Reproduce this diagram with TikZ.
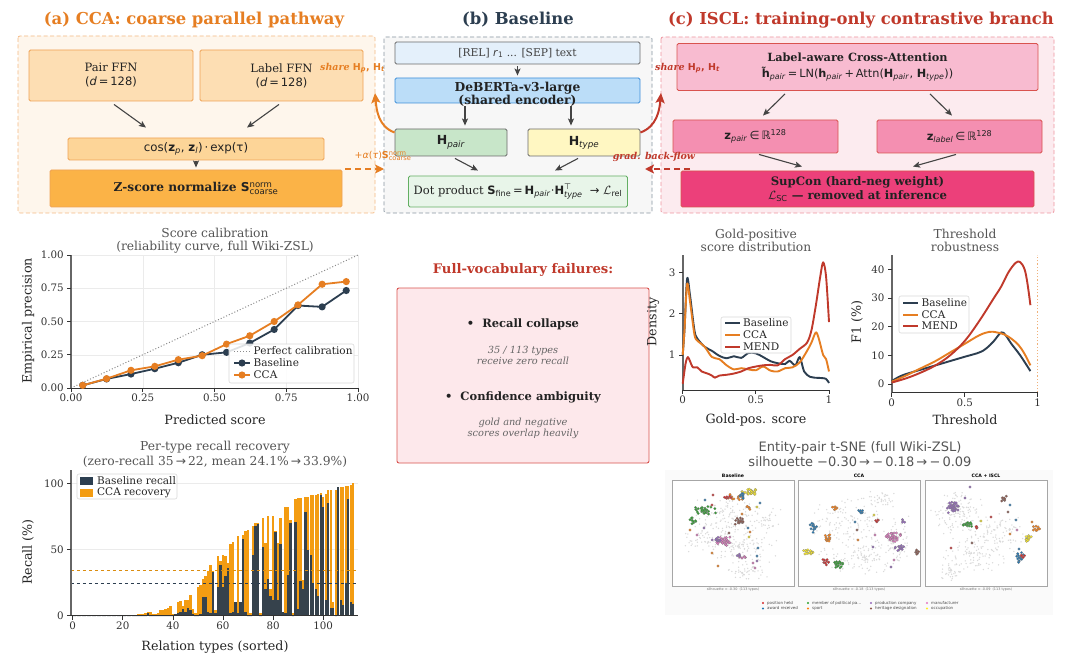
\documentclass[tikz,border=0pt]{standalone}
\usepackage{fontspec}
\setmainfont{DejaVu Serif}
\newfontfamily\dvs{DejaVu Sans}
\usetikzlibrary{arrows.meta}
\newcommand{\fs}[2]{\fontsize{#1}{#2}\selectfont}
\makeatletter
\newcommand{\ssup}[2]{\ensuremath{^{\mbox{\fontsize\sf@size\z@\selectfont #1}}_{\mbox{\fontsize\sf@size\z@\selectfont #2}}}}
\makeatother
\definecolor{corange}{HTML}{E67E22}
\definecolor{cnavy}{HTML}{2C3E50}
\definecolor{cred}{HTML}{C0392B}
\definecolor{abg}{HTML}{FEF6EC}
\definecolor{aframe}{HTML}{F5B983}
\definecolor{ffn}{HTML}{FDDEB3}
\definecolor{ffnline}{HTML}{EFA255}
\definecolor{cosf}{HTML}{FDD598}
\definecolor{zsf}{HTML}{FBB347}
\definecolor{bbg}{HTML}{F7F7F7}
\definecolor{bframe}{HTML}{8895A0}
\definecolor{relf}{HTML}{E4F0FB}
\definecolor{debf}{HTML}{BBDDF8}
\definecolor{debline}{HTML}{3D8FD9}
\definecolor{hpf}{HTML}{C8E6C9}
\definecolor{htf}{HTML}{FFF7C2}
\definecolor{dotf}{HTML}{E8F5E9}
\definecolor{dotline}{HTML}{63AF63}
\definecolor{cbg}{HTML}{FCEBEF}
\definecolor{cframe}{HTML}{EE949F}
\definecolor{lacf}{HTML}{F8BBD0}
\definecolor{zf}{HTML}{F48FB1}
\definecolor{supf}{HTML}{EC407A}
\definecolor{cline}{HTML}{D9534F}
\definecolor{boxgray}{HTML}{6B6B6B}
\definecolor{arrgray}{HTML}{444444}
\definecolor{txt}{HTML}{222222}
\definecolor{ttl}{HTML}{555555}
\definecolor{failf}{HTML}{FDE8EB}
\definecolor{barorange}{HTML}{F39C12}
\definecolor{gridc}{HTML}{EBEBEB}
\definecolor{axc}{HTML}{666666}
\definecolor{tred}{HTML}{D62728}
\definecolor{tblue}{HTML}{1F77B4}
\definecolor{tgreen}{HTML}{2CA02C}
\definecolor{torange}{HTML}{FF7F0E}
\definecolor{tpurple}{HTML}{9467BD}
\definecolor{tbrown}{HTML}{8C564B}
\definecolor{tpink}{HTML}{E377C2}
\definecolor{tyellow}{HTML}{FFEE22}
\definecolor{tgray}{HTML}{DADADA}
\newcommand{\tsneg}[5]{\foreach \kk in {1,...,#5}{\pgfmathsetmacro\ux{#1+#3*(rand+rand)/2}\pgfmathsetmacro\uy{#2+#4*(rand+rand)/2}\fill[tgray] (\ux,\uy) circle (0.75pt);}}
\newcommand{\tsnec}[6]{\foreach \kk in {1,...,#6}{\pgfmathsetmacro\ux{#2+#4*(rand+rand)/2}\pgfmathsetmacro\uy{#3+#5*(rand+rand)/2}\filldraw[fill=#1, draw=black!50, line width=0.15pt] (\ux,\uy) circle (1.3pt);}}
\newcommand{\tsnep}[3]{\filldraw[fill=#1, draw=black!50, line width=0.15pt] (#2,#3) circle (1.3pt);}
\tikzset{
  box/.style={draw, rounded corners=1.5pt, line width=0.9pt, inner sep=0pt, align=center, font=\fs{11.5}{14}, text=txt},
  arr/.style={-{Stealth[length=7pt,width=6pt,inset=1.5pt]}, line width=1.1pt, draw=arrgray},
  ptitle/.style={text=ttl, font=\fs{12.3}{13.5}, align=center},
  tick/.style={text=black!80, font=\fs{10.3}{12}, inner sep=1pt},
  alabel/.style={text=black!85, font=\fs{12.7}{14}},
  legbox/.style={draw=black!15, fill=white, fill opacity=0.85, rounded corners=2pt, line width=0.6pt},
  legtxt/.style={text=black!85, font=\fs{10.5}{12}, anchor=west, inner sep=0pt},
}
\begin{document}
\begin{tikzpicture}[x=1pt,y=-1pt]
\useasboundingbox (0,0) rectangle (1080,658);
\fill[white] (0,0) rectangle (1080,658);

% ================= (a) =================
\node[font=\fs{16.4}{19}\bfseries, text=corange] (ta) at (194,20) {(a) CCA: coarse parallel pathway};
\draw[aframe, fill=abg, dash pattern=on 4pt off 2.5pt, line width=0.8pt, rounded corners=2pt] (18,36) rectangle (375,213);
\node[box, fill=ffn, draw=ffnline, minimum width=164pt, minimum height=51pt] (pffn) at (111,75.5) {Pair FFN\\{\dvs(\textit{d}\,=\,128)}};
\node[box, fill=ffn, draw=ffnline, minimum width=163pt, minimum height=51pt] (lffn) at (281.5,75.5) {Label FFN\\{\dvs(\textit{d}\,=\,128)}};
\node[box, fill=cosf, draw=ffnline, minimum width=256pt, minimum height=22pt, font=\fs{11.8}{14}] (cosb) at (196,149) {\dvs cos(\textbf{z}\textsubscript{\textit{p}}, \textbf{z}\textsubscript{\textit{l}})\,·\,exp(τ)};
\node[box, fill=zsf, draw=ffnline, minimum width=292pt, minimum height=37pt, font=\fs{12.2}{14}\bfseries] (zsb) at (196,188.5) {Z-score normalize {\dvs S\ssup{\mdseries norm}{\mdseries coarse}}};
\draw[arr] ([xshift=3pt,yshift=-3pt]pffn.south) -- ([xshift=-50pt,yshift=10pt]cosb.north);
\draw[arr] ([xshift=-2.5pt,yshift=-3pt]lffn.south) -- ([xshift=51pt,yshift=10pt]cosb.north);
\draw[arr, shorten <=1pt] (cosb.south) -- ([yshift=2pt]zsb.north);
\node[anchor=west, text=corange, font=\fs{9.5}{11}\bfseries\itshape, inner sep=0pt] (sha) at (320,68) {share {\dvs\upshape H\textsubscript{\itshape p}, H\textsubscript{\itshape t}}};

% ================= (b) =================
\node[font=\fs{16.4}{19}\bfseries, text=cnavy] (tb) at (518,20) {(b) Baseline};
\draw[bframe, fill=bbg, dash pattern=on 4pt off 2.5pt, line width=0.8pt, rounded corners=2pt] (384,37) rectangle (652,213);
\node[box, fill=relf, draw=boxgray, minimum width=245pt, minimum height=22pt, font=\fs{10.7}{12}, text=black!75] (rel) at (517.5,53) {[REL] {\dvs\textit{r}\textsubscript{1}} ... [SEP] text};
\node[box, fill=debf, draw=debline, minimum width=245pt, minimum height=25pt] (deb) at (517.5,90.5) {};
\node[font=\fs{12.3}{13}\bfseries, align=center, text=txt, inner sep=0pt] (debt) at (517.5,94) {DeBERTa-v3-large\\(shared encoder)};
\node[box, fill=hpf, draw=boxgray, minimum width=112pt, minimum height=27pt, font=\fs{12.5}{14}] (hp) at (451,142.5) {\dvs\textbf{H}\textsubscript{\textit{pair}}};
\node[box, fill=htf, draw=boxgray, minimum width=112pt, minimum height=27pt, font=\fs{12.5}{14}] (ht) at (584,142.5) {\dvs\textbf{H}\textsubscript{\textit{type}}};
\node[box, fill=dotf, draw=dotline, minimum width=219pt, minimum height=31pt, font=\fs{11.5}{13}] (dotp) at (518,191.5) {Dot product {\dvs\textbf{S}\textsubscript{fine}\,=\,\textbf{H}\textsubscript{\textit{pair}}·\textbf{H}\ssup{⊤}{\textit{type}}\ \ → $\mathcal{L}$\textsubscript{rel}}};
\draw[arr, shorten <=2pt, shorten >=2pt] (rel.south) -- (deb.north);
\draw[arr, shorten <=3pt, shorten >=3pt] ([xshift=-52.5pt]deb.south) -- ([xshift=14pt]hp.north);
\draw[arr, shorten <=3pt, shorten >=3pt] ([xshift=53.5pt]deb.south) -- ([xshift=-13pt]ht.north);
\draw[arr] ([xshift=4pt,yshift=-2pt]hp.south) -- ([xshift=-40pt,yshift=5pt]dotp.north);
\draw[arr] ([xshift=-6pt,yshift=-2pt]ht.south) -- ([xshift=37pt,yshift=5pt]dotp.north);

% ================= (c) =================
\node[font=\fs{16.4}{19}\bfseries, text=cred] (tc) at (861,20) {(c) ISCL: training-only contrastive branch};
\draw[cframe, fill=cbg, dash pattern=on 4pt off 2.5pt, line width=0.8pt, rounded corners=2pt] (661,37) rectangle (1054,213);
\node[box, fill=lacf, draw=cline, minimum width=361pt, minimum height=47pt, font=\fs{11.3}{16.5}] (lac) at (857.5,67) {\textbf{Label-aware Cross-Attention}\\{\dvs\textbf{\~{h}}\textsubscript{\textit{pair}}\,=\,LN(\textbf{h}\textsubscript{\textit{pair}}\,+\,Attn(\textbf{H}\textsubscript{\textit{pair}}, \textbf{H}\textsubscript{\textit{type}}))}};
\node[box, fill=zf, draw=cline, minimum width=165pt, minimum height=33pt, font=\fs{11.5}{13}] (zp) at (755.5,136.5) {\dvs\textbf{z}\textsubscript{\textit{pair}}\,∈\,ℝ\textsuperscript{128}};
\node[box, fill=zf, draw=cline, minimum width=165pt, minimum height=33pt, font=\fs{11.5}{13}] (zl) at (959.5,136.5) {\dvs\textbf{z}\textsubscript{\textit{label}}\,∈\,ℝ\textsuperscript{128}};
\node[box, fill=supf, draw=cline, minimum width=353pt, minimum height=36pt, font=\fs{11.7}{13.5}\bfseries] (sup) at (857.5,189) {SupCon (hard-neg weight)\\$\mathcal{L}${\dvs\mdseries\textsubscript{SC}} — removed at inference};
\draw[arr] ([xshift=-72.5pt,yshift=-3pt]lac.south) -- ([xshift=7.5pt,yshift=4pt]zp.north);
\draw[arr] ([xshift=72.5pt,yshift=-3pt]lac.south) -- ([xshift=-7.5pt,yshift=4pt]zl.north);
\draw[arr] ([xshift=3.5pt,yshift=-1pt]zp.south) -- ([xshift=-55.5pt,yshift=4pt]sup.north);
\draw[arr] ([xshift=-3.5pt,yshift=-1pt]zl.south) -- ([xshift=55.5pt,yshift=4pt]sup.north);
\node[anchor=west, text=cred, font=\fs{9.5}{11}\bfseries\itshape, inner sep=0pt] (shc) at (655,68) {share {\dvs\upshape H\textsubscript{\itshape p}, H\textsubscript{\itshape t}}};

% ===== inter-panel arrows =====
\coordinate (otip) at (375,93);
\coordinate (rtip) at (661,93);
\draw[corange, line width=2pt, -{Stealth[length=10pt,width=9pt,inset=2pt]}] ([yshift=10pt]hp.west) to[out=160, in=-85] (otip);
\draw[cred, line width=2pt, -{Stealth[length=10pt,width=9pt,inset=2pt]}] ([yshift=10pt]ht.east) to[out=20, in=-95] (rtip);
\coordinate (oa1) at (345,169);
\coordinate (oa2) at (384,169);
\draw[corange, line width=2pt, dash pattern=on 6pt off 4pt, -{Stealth[length=9pt,width=9pt,inset=2pt]}] (oa1) -- (oa2);
\coordinate (ra1) at (690,169);
\coordinate (ra2) at (645,169);
\draw[cred, line width=2pt, dash pattern=on 6pt off 4pt, -{Stealth[length=9pt,width=9pt,inset=2pt]}] (ra1) -- (ra2);
\node[text=corange, font=\fs{9.5}{11}, inner sep=0pt] (alab) at (383,156) {\dvs+\textit{α}(\textit{τ})\textbf{S}\ssup{norm}{coarse}};
\node[text=cred, font=\fs{9.5}{11}\bfseries\itshape, inner sep=0pt] (glab) at (654,157) {grad. back-flow};

% ================= Plot 1: calibration =================
\node[ptitle] (t1) at (215,240.5) {Score calibration\\(reliability curve, full Wiki-ZSL)};
\begin{scope}[shift={(71,388)}, x=287pt, y=133pt]
\foreach \g in {0.25,0.5,0.75,1}{\draw[gridc, line width=0.5pt] (\g,0)--(\g,1); \draw[gridc, line width=0.5pt] (0,\g)--(1,\g);}
\draw[black!45, dotted, line width=1pt] (0,0)--(1,1);
\draw[axc, line width=1.6pt] (0,0)--(0,1);
\draw[black!80, line width=0.8pt] (0,0)--(1,0);
\foreach \t/\l [count=\k] in {0/0.00,0.25/0.25,0.5/0.50,0.75/0.75,1/1.00}{
  \draw[black!80, line width=0.8pt] (\t,0)--++(0pt,-4pt);
  \node[tick, anchor=north, yshift=-5pt] (c1x\k) at (\t,0) {\l};
  \draw[black!80, line width=0.8pt] (0,\t)--++(-4pt,0pt);
  \node[tick, anchor=east, xshift=-6pt] (c1y\k) at (0,\t) {\l};}
\draw[cnavy, line width=1.8pt] plot coordinates {(0.041,0.02) (0.124,0.068) (0.209,0.105) (0.292,0.145) (0.374,0.19) (0.457,0.25) (0.542,0.268) (0.623,0.338) (0.708,0.44) (0.791,0.62) (0.875,0.61) (0.959,0.733)};
\foreach \p in {(0.041,0.02),(0.124,0.068),(0.209,0.105),(0.292,0.145),(0.374,0.19),(0.457,0.25),(0.542,0.268),(0.623,0.338),(0.708,0.44),(0.791,0.62),(0.875,0.61),(0.959,0.733)} \fill[cnavy] \p circle (3.6pt);
\draw[corange, line width=1.8pt] plot coordinates {(0.041,0.02) (0.124,0.07) (0.209,0.133) (0.292,0.163) (0.374,0.213) (0.457,0.243) (0.542,0.33) (0.623,0.393) (0.708,0.5) (0.791,0.625) (0.875,0.78) (0.959,0.8)};
\foreach \p in {(0.041,0.02),(0.124,0.07),(0.209,0.133),(0.292,0.163),(0.374,0.213),(0.457,0.243),(0.542,0.33),(0.623,0.393),(0.708,0.5),(0.791,0.625),(0.875,0.78),(0.959,0.8)} \fill[corange] \p circle (3.6pt);
\end{scope}
\node[alabel] (x1) at (215,420) {Predicted score};
\node[alabel, rotate=90] (y1) at (28,321) {Empirical precision};
\draw[legbox] (229,344) rectangle (354,383);
\draw[black!45, dotted, line width=1pt] (234,351) -- (250,351);
\node[legtxt] (l1a) at (253.5,351) {Perfect calibration};
\draw[cnavy, line width=1.8pt] (234,363) -- (250,363); \fill[cnavy] (242,363) circle (3.6pt);
\node[legtxt] (l1b) at (253.5,363) {Baseline};
\draw[corange, line width=1.8pt] (234,375) -- (250,375); \fill[corange] (242,375) circle (3.6pt);
\node[legtxt] (l1c) at (253.5,375) {CCA};

% ================= Plot 2: per-type recall =================
\node[ptitle, font=\fs{12.3}{14.5}] (t2) at (215,454.5) {Per-type recall recovery\\(zero-recall 35\,{\dvs→}\,22, mean 24.1\%\,{\dvs→}\,33.9\%)};
\begin{scope}[shift={(72.7,615.7)}, x=2.505pt, y=1.324pt]
\foreach \g in {50,100}{\draw[gridc, line width=0.5pt] (-0.7,\g)--(113.9,\g);}
\foreach \v [count=\i from 0] in {0.6,0.6,0.6,0.6,0.6,0.6,0.6,0.6,0.6,0.6,0.6,0.6,0.6,0.6,0.6,0.6,0.6,0.6,0.6,0.6,0.6,0.6,0.6,0.6,0.6,0.6,1,1,1,2,3,3,1,1,2,4,4,5,6,7,1,1,10,11,7,12,12,16,5,2,22,23,28,30,34,38,34,4,45,41,46,45,40,54,56,10,60,10,61,64,65,2,68,70,70,2,74,55,75,20,75,64,55,74,3,82,82,72,2,88,89,89,27,90,90,91,91,91,92,93,90,92,95,95,10,95,97,97,97,98,98,99,100}{
  \fill[barorange] (\i-0.47,0) rectangle (\i+0.47,\v);}
\foreach \v [count=\i from 0] in {0,0,0,0,0,0,0,0,0,0,0,0,0,0,0,0,0,0,0,0,0,0,0,0,0,0,0,0,0,0,2,0,0,0,0,0,0,0,0,0,0,1,2,3,5,3,6,4,1,0,0,1,14,14,3,2,33,2,22,38,22,30,36,2,3,10,2,10,58,3,0,0,46,68,69,0,52,20,28,15,12,63,12,54,3,2,31,70,0,71,5,26,20,78,50,46,25,20,15,91,82,12,85,6,6,0,97,12,8,25,88,10,9}{
  \fill[cnavy, opacity=0.95] (\i-0.47,0) rectangle (\i+0.47,\v);}
\draw[barorange!90!black, dashed, line width=1.1pt] (-0.7,33.9)--(113.9,33.9);
\draw[cnavy, dashed, line width=1.1pt] (-0.7,24.1)--(113.9,24.1);
\draw[axc, line width=1.6pt] (-0.7,0)--(-0.7,110);
\draw[black!80, line width=0.8pt] (-0.7,0)--(113.9,0);
\foreach \t [count=\k] in {0,20,40,60,80,100}{
  \draw[black!80, line width=0.8pt] (\t,0)--++(0pt,-4pt);
  \node[tick, anchor=north, yshift=-5pt] (c2x\k) at (\t,0) {\t};}
\foreach \t [count=\k] in {0,50,100}{
  \draw[black!80, line width=0.8pt] (-0.7,\t)--++(-4pt,0pt);
  \node[tick, anchor=east, xshift=-6pt] (c2y\k) at (-0.7,\t) {\t};}
\end{scope}
\node[alabel] (x2) at (215,647) {Relation types (sorted)};
\node[alabel, rotate=90] (y2) at (28,552) {Recall (\%)};
\draw[legbox] (77,474) rectangle (177,499);
\fill[cnavy] (80,477) rectangle (93,485);
\node[legtxt] (l2a) at (97,481) {Baseline recall};
\fill[barorange] (80,488.5) rectangle (93,496.5);
\node[legtxt] (l2b) at (97,492.5) {CCA recovery};

% ================= Failures box =================
\node[text=cred, font=\fs{13.2}{15}\bfseries] (ft) at (523,270) {Full-vocabulary failures:};
\node[draw=cline, fill=failf, line width=0.9pt, rounded corners=2pt, minimum width=252pt, minimum height=175pt, inner sep=0pt] (fbox) at (523,375.5) {};
\node[font=\fs{11.5}{13}\bfseries, text=txt] (f1) at (523,324) {•\ \ Recall collapse};
\node[font=\fs{9.8}{11.5}\itshape, text=black!60, align=center] (f1d) at (523,355.5) {35 / 113 types\\receive zero recall};
\node[font=\fs{11.5}{13}\bfseries, text=txt] (f2) at (523,397) {•\ \ Confidence ambiguity};
\node[font=\fs{9.8}{11.5}\itshape, text=black!60, align=center] (f2d) at (523,428.5) {gold and negative\\scores overlap heavily};

% ================= Plot 3: gold-positive =================
\node[ptitle] (t3) at (756,240.5) {Gold-positive\\score distribution};
\begin{scope}[shift={(682.7,396.2)}, x=146.3pt, y=41.2pt]
\draw[axc, line width=1.6pt] (0,0.15)--(0,3.43);
\draw[black!80, line width=0.8pt] (0,0.15)--(1,0.15);
\foreach \t/\l [count=\k] in {0/0,0.5/0.5,1/1}{
  \draw[black!80, line width=0.8pt] (\t,0.15)--++(0pt,-4pt);
  \node[tick, anchor=north, yshift=-5pt] (c3x\k) at (\t,0.15) {\l};}
\foreach \t [count=\k] in {1,2,3}{
  \draw[black!80, line width=0.8pt] (0,\t)--++(-4pt,0pt);
  \node[tick, anchor=east, xshift=-6pt] (c3y\k) at (0,\t) {\t};}
\draw[cnavy, line width=1.9pt, line join=round] plot[smooth, tension=0.5] coordinates {(0,1.0) (0.012,1.6) (0.03,2.85) (0.05,2.45) (0.08,1.6) (0.1,1.4) (0.15,1.2) (0.2,1.1) (0.25,0.98) (0.3,0.92) (0.35,0.97) (0.4,0.93) (0.45,1.05) (0.5,1.04) (0.55,0.95) (0.6,0.85) (0.65,0.8) (0.7,0.78) (0.73,0.86) (0.77,0.75) (0.8,0.95) (0.83,0.6) (0.87,0.47) (0.9,0.45) (0.95,0.44) (0.98,0.42) (1,0.32)};
\draw[corange, line width=1.9pt, line join=round] plot[smooth, tension=0.5] coordinates {(0,1.0) (0.012,1.6) (0.03,2.72) (0.05,2.3) (0.08,1.5) (0.1,1.35) (0.15,1.2) (0.2,0.95) (0.25,0.9) (0.3,0.75) (0.35,0.65) (0.4,0.68) (0.45,0.65) (0.5,0.63) (0.55,0.72) (0.6,0.62) (0.65,0.6) (0.7,0.68) (0.75,0.7) (0.8,0.82) (0.85,1.1) (0.88,1.3) (0.91,1.55) (0.93,1.4) (0.96,1.0) (0.98,0.9) (1,0.6)};
\draw[cred, line width=1.9pt, line join=round] plot[smooth, tension=0.5] coordinates {(0,0.3) (0.02,0.8) (0.035,0.95) (0.05,0.85) (0.07,0.7) (0.1,0.7) (0.13,0.6) (0.17,0.55) (0.2,0.5) (0.22,0.45) (0.25,0.5) (0.3,0.52) (0.35,0.55) (0.4,0.6) (0.45,0.68) (0.5,0.72) (0.55,0.75) (0.6,0.76) (0.65,0.75) (0.7,0.9) (0.75,1.0) (0.8,1.15) (0.85,1.3) (0.88,1.6) (0.91,2.2) (0.94,2.9) (0.96,3.25) (0.98,2.9) (1,1.8)};
\end{scope}
\node[alabel] (x3) at (756,420) {Gold-pos. score};
\node[alabel, rotate=90] (y3) at (653,322) {Density};
\draw[legbox] (721,317) rectangle (791,353);
\draw[cnavy, line width=1.9pt] (725,323) -- (740,323); \node[legtxt] (l3a) at (743,323) {Baseline};
\draw[corange, line width=1.9pt] (725,335) -- (740,335); \node[legtxt] (l3b) at (743,335) {CCA};
\draw[cred, line width=1.9pt] (725,347) -- (740,347); \node[legtxt] (l3c) at (743,347) {MEND};

% ================= Plot 4: threshold =================
\node[ptitle] (t4) at (965,240.5) {Threshold\\robustness};
\begin{scope}[shift={(891.7,384)}, x=146pt, y=2.867pt]
\draw[corange!60, dotted, line width=1.2pt] (1,-3)--(1,45);
\draw[axc, line width=1.6pt] (0,-3)--(0,45);
\draw[black!80, line width=0.8pt] (0,-3)--(1,-3);
\foreach \t/\l [count=\k] in {0/0,0.5/0.5,1/1}{
  \draw[black!80, line width=0.8pt] (\t,-3)--++(0pt,-4pt);
  \node[tick, anchor=north, yshift=-5pt] (c4x\k) at (\t,-3) {\l};}
\foreach \t [count=\k] in {0,10,20,30,40}{
  \draw[black!80, line width=0.8pt] (0,\t)--++(-4pt,0pt);
  \node[tick, anchor=east, xshift=-6pt] (c4y\k) at (0,\t) {\t};}
\draw[cnavy, line width=1.9pt, line join=round] plot[smooth, tension=0.6] coordinates {(0,1) (0.05,2.5) (0.1,3.5) (0.2,5) (0.3,6.5) (0.4,8) (0.5,9.5) (0.6,11) (0.65,12.5) (0.7,15) (0.75,18) (0.78,17) (0.82,14) (0.88,10) (0.95,4.5)};
\draw[corange, line width=1.9pt, line join=round] plot[smooth, tension=0.6] coordinates {(0,0.8) (0.1,3) (0.2,5.5) (0.3,8) (0.4,11) (0.5,14) (0.6,17) (0.67,18.2) (0.72,18) (0.77,17.3) (0.82,15.8) (0.87,13.5) (0.91,10.5) (0.95,6.5)};
\draw[cred, line width=1.9pt, line join=round] plot[smooth, tension=0.6] coordinates {(0,0.5) (0.1,2) (0.2,4) (0.3,6.5) (0.4,10) (0.5,15) (0.6,22) (0.7,30) (0.75,34) (0.8,39) (0.85,42.3) (0.88,42.5) (0.91,40) (0.93,35) (0.95,27.5)};
\end{scope}
\node[alabel] (x4) at (965,420) {Threshold};
\node[alabel, rotate=90] (y4) at (857,322) {F1 (\%)};
\draw[legbox] (899,296) rectangle (969,333);
\draw[cnavy, line width=1.9pt] (903,303) -- (918,303); \node[legtxt] (l4a) at (921.5,303) {Baseline};
\draw[corange, line width=1.9pt] (903,315) -- (918,315); \node[legtxt] (l4b) at (921.5,315) {CCA};
\draw[cred, line width=1.9pt] (903,326) -- (918,326); \node[legtxt] (l4c) at (921.5,326) {MEND};

% ================= Plot 5: t-SNE =================
\node[text=ttl, font=\dvs\fs{13}{15}, align=center] (t5) at (860,454.5) {Entity-pair t-SNE (full Wiki-ZSL)\\silhouette −0.30\,→\,−\,0.18\,→\,−\,0.09};
\fill[black!2] (665,470) rectangle (1053,615);
\pgfmathsetseed{11}
\foreach \fx/\tt [count=\k] in {672/Baseline,798/CCA,925/CCA + ISCL}{
  \fill[white] (\fx,480) rectangle (\fx+122,586);
  \node[font=\dvs\fs{4.6}{5}\bfseries, text=black] (st\k) at (\fx+61,475.5) {\tt};}
\foreach \fx/\ss [count=\k] in {672/-0.30,798/-0.18,925/-0.09}{
  \node[font=\dvs\fs{3.4}{4}, text=black!55] (sc\k) at (\fx+61,590) {silhouette = \ss\ \ (113 types)};}
% gray background points
\tsneg{725}{515}{35}{20}{110}
\tsneg{740}{548}{40}{24}{130}
\tsneg{700}{540}{18}{14}{40}
\tsneg{765}{520}{18}{14}{40}
\tsneg{748}{572}{24}{8}{40}
\tsneg{850}{520}{40}{24}{120}
\tsneg{860}{556}{45}{20}{130}
\tsneg{900}{540}{14}{28}{50}
\tsneg{878}{500}{20}{10}{40}
\tsneg{960}{512}{30}{24}{120}
\tsneg{978}{550}{40}{24}{130}
\tsneg{1002}{530}{28}{18}{60}
\tsneg{952}{572}{16}{9}{35}
% Baseline clusters
\tsnec{tyellow}{750}{492}{10}{4}{25}
\tsnec{torange}{735}{497}{8}{4}{12}
\tsnec{tred}{728}{497}{6}{3}{8}
\tsnec{tblue}{742}{496}{6}{4}{8}
\tsnec{tgreen}{705}{510}{12}{5}{30}
\tsnec{tgreen}{693}{520}{5}{4}{10}
\tsnec{tbrown}{740}{521}{6}{4}{18}
\tsnec{torange}{748}{508}{5}{4}{5}
\tsnec{tpink}{723}{541}{8}{5}{30}
\tsnec{tpurple}{716}{540}{5}{3}{10}
\tsnec{tpink}{742}{557}{4}{2}{6}
\tsnec{tpurple}{739}{556}{3}{2}{4}
\tsnep{tblue}{748}{528}\tsnep{tblue}{758}{548}\tsnep{tblue}{757}{556}\tsnep{tyellow}{749}{537}
\tsnep{tpink}{755}{568}\tsnep{tpink}{753}{563}\tsnep{torange}{712}{553}\tsnep{torange}{718}{566}
\tsnep{tred}{713}{495}\tsnep{tred}{712}{505}\tsnep{tblue}{705}{500}\tsnep{torange}{690}{530}
\tsnep{torange}{750}{532}\tsnep{tpurple}{704}{528}\tsnep{tpink}{697}{535}\tsnep{tbrown}{729}{533}
\tsnep{tblue}{760}{503}\tsnep{tyellow}{757}{507}\tsnep{torange}{742}{514}\tsnep{tpurple}{757}{561}
% CCA clusters
\tsnec{tblue}{813}{527}{4}{6}{15}
\tsnec{torange}{828}{538}{6}{4}{15}
\tsnec{tyellow}{808}{552}{6}{3}{15}
\tsnec{tgreen}{838}{563}{6}{5}{25}
\tsnec{tred}{826}{562}{4}{3}{10}
\tsnec{tpink}{893}{536}{9}{6}{35}
\tsnec{tpurple}{899}{548}{5}{4}{12}
\tsnec{tbrown}{916}{552}{3}{3}{8}
\tsnec{tblue}{862}{510}{4}{4}{8}
\tsnec{torange}{835}{509}{4}{3}{6}
\tsnec{tred}{876}{520}{3}{3}{5}
\tsnec{tpurple}{904}{521}{2}{3}{4}
\tsnep{tpink}{875}{535}\tsnep{tpurple}{873}{547}\tsnep{tblue}{855}{522}\tsnep{torange}{858}{540}
\tsnep{tpink}{894}{560}\tsnep{tpurple}{891}{567}\tsnep{tyellow}{874}{515}\tsnep{tbrown}{857}{530}
% CCA+ISCL clusters
\tsnec{tpurple}{953}{507}{8}{6}{35}
\tsnec{tgreen}{968}{524}{7}{3}{18}
\tsnec{tred}{976}{527}{2}{3}{6}
\tsnec{tbrown}{1004}{499}{3}{4}{10}
\tsnec{torange}{1037}{529}{4}{3}{10}
\tsnec{tyellow}{1028}{538}{4}{5}{15}
\tsnec{tblue}{1020}{558}{4}{7}{18}
\tsnec{tred}{1023}{556}{3}{2}{5}
\tsnep{tpurple}{970}{487}\tsnep{tpurple}{965}{498}\tsnep{tblue}{1016}{520}\tsnep{tblue}{1010}{505}
\tsnep{torange}{1010}{534}\tsnep{torange}{1032}{522}\tsnep{tbrown}{1008}{512}\tsnep{tbrown}{972}{543}
\tsnep{tred}{991}{517}\tsnep{tred}{951}{548}\tsnep{tyellow}{981}{521}\tsnep{tpink}{1017}{530}\tsnep{tblue}{1019}{549}
\foreach \fx [count=\k] in {672,798,925}{\draw[black!35, line width=0.7pt] (\fx,480) rectangle (\fx+122,586);}
% legend
\foreach \c/\x/\y/\l [count=\k] in {tred/763/603/position held, tblue/763/608.5/award received, tgreen/808/603/member of political pa\ldots, torange/808/608.5/sport, tpurple/871/603/production company, tbrown/871/608.5/heritage designation, tpink/927/603/manufacturer, tyellow/927/608.5/occupation}{
  \fill[\c] (\x,\y) circle (1.2pt);
  \node[font=\dvs\fs{4}{5}, text=black!70, anchor=west, inner sep=0pt] (lg\k) at (\x+4,\y) {\l};}
\end{tikzpicture}
\end{document}
